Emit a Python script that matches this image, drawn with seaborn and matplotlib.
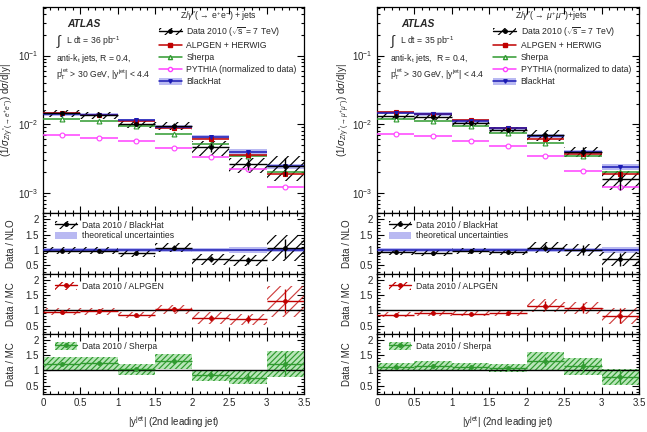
import numpy as np
import pandas as pd
import matplotlib
matplotlib.use("Agg")
import matplotlib.pyplot as plt
import seaborn as sns
from matplotlib.patches import Patch
from matplotlib.lines import Line2D
from matplotlib.ticker import MultipleLocator, LogLocator, NullFormatter, FixedLocator, FixedFormatter

sns.set_theme(style="ticks")
plt.rcParams['font.family'] = ['Liberation Sans', 'DejaVu Sans']
plt.rcParams['mathtext.fontset'] = 'custom'
plt.rcParams['mathtext.rm'] = 'Liberation Sans'
plt.rcParams['mathtext.it'] = 'Liberation Sans:italic'
plt.rcParams['mathtext.bf'] = 'Liberation Sans:bold'
plt.rcParams['hatch.linewidth'] = 0.85

# ---------------- data ----------------
bin_edges = [0, 0.5, 1.0, 1.5, 2.0, 2.5, 3.0, 3.5]

# electron channel
ee_data = [0.0145, 0.0135, 0.0100, 0.0095, 0.0046, 0.0026, 0.0025]
ee_stat = [0.04, 0.05, 0.06, 0.08, 0.15, 0.18, 0.30]
ee_syst = [0.12, 0.12, 0.12, 0.13, 0.26, 0.26, 0.40]
ee_alpgen = [0.0146, 0.0135, 0.0110, 0.0088, 0.0060, 0.0036, 0.0019]
ee_sherpa = [0.0118, 0.0110, 0.0094, 0.0073, 0.0052, 0.0034, 0.0020]
ee_pythia = [0.0069, 0.0064, 0.0057, 0.0045, 0.0033, 0.0022, 0.0012]
ee_blackhat = [0.0140, 0.0138, 0.0114, 0.0091, 0.0065, 0.0040, 0.00245]
ee_bh_unc = [0.06, 0.06, 0.06, 0.07, 0.07, 0.10, 0.08]
ee_r_nlo = [0.98, 0.98, 0.89, 1.08, 0.70, 0.66, 1.05]
ee_r_alpgen = [0.95, 0.97, 0.84, 1.03, 0.75, 0.71, 1.30]
ee_r_sherpa = [1.22, 1.23, 1.03, 1.30, 0.84, 0.76, 1.21]
ee_sherpa_unc = [0.17, 0.17, 0.17, 0.19, 0.22, 0.28, 0.36]

# muon channel
mm_data = [0.0134, 0.0128, 0.0104, 0.0082, 0.0069, 0.0040, 0.0016]
mm_stat = [0.04, 0.05, 0.06, 0.07, 0.12, 0.15, 0.30]
mm_syst = [0.10, 0.10, 0.10, 0.10, 0.18, 0.18, 0.32]
mm_alpgen = [0.0153, 0.0143, 0.0117, 0.0087, 0.0060, 0.0037, 0.0019]
mm_sherpa = [0.0120, 0.0113, 0.0094, 0.0075, 0.0053, 0.0035, 0.0020]
mm_pythia = [0.0073, 0.0067, 0.0057, 0.0049, 0.0035, 0.0021, 0.0012]
mm_blackhat = [0.0148, 0.0141, 0.0112, 0.0087, 0.0067, 0.0040, 0.0024]
mm_bh_unc = [0.06, 0.06, 0.06, 0.06, 0.06, 0.07, 0.10]
mm_r_nlo = [0.92, 0.90, 0.96, 0.92, 1.08, 1.00, 0.70]
mm_r_alpgen = [0.86, 0.92, 0.89, 0.91, 1.16, 1.08, 0.82]
mm_r_sherpa = [1.11, 1.16, 1.11, 1.08, 1.30, 1.13, 0.78]
mm_sherpa_unc = [0.13, 0.13, 0.13, 0.13, 0.23, 0.25, 0.34]

# ---------------- style ----------------
C_RED = '#c00000'
C_GREEN = '#2f9a2f'
C_MAG = '#ff40ff'
C_BLUE = '#1a1ab4'
C_BAND = '#b9b9f2'
C_GBAND = '#b8e6b8'
FS = 6.2
TFS = 7

edges = np.array(bin_edges)
lo = edges[:-1]
hi = edges[1:]
centers = 0.5 * (lo + hi)
width = hi - lo


def style_axis(ax):
    ax.set_xlim(0, 3.5)
    ax.xaxis.set_major_locator(MultipleLocator(0.5))
    ax.xaxis.set_minor_locator(MultipleLocator(0.1))
    ax.tick_params(which='both', direction='in', top=True, right=True,
                   labelsize=TFS, pad=3, width=0.8, color='black')
    ax.tick_params(which='major', length=5)
    ax.tick_params(which='minor', length=2.5)
    for s in ax.spines.values():
        s.set_linewidth(0.9)
        s.set_color('black')
    ax.set_xlabel('')
    ax.set_ylabel('')


def markers(ax, x, y, color, marker, ms, open_=False, z=5):
    df = pd.DataFrame({'x': x, 'y': y})
    sns.lineplot(data=df, x='x', y='y', ax=ax, color=color, marker=marker,
                 linestyle='', markersize=ms,
                 markerfacecolor='white' if open_ else color,
                 markeredgecolor=color, markeredgewidth=0.8,
                 legend=False, errorbar=None, zorder=z, sort=False)


def draw_main(ax, data, stat, syst, alp, she, pyt, bh, bh_unc, header, lumi, ylabel, spaced):
    data = np.array(data); stat = np.array(stat); syst = np.array(syst)
    bh = np.array(bh); bh_unc = np.array(bh_unc)
    ax.set_yscale('log')
    ax.bar(lo, bh * 2 * bh_unc, bottom=bh * (1 - bh_unc), width=width, align='edge',
           color=C_BAND, linewidth=0, zorder=1)
    ax.bar(lo, data * 2 * syst, bottom=data * (1 - syst), width=width, align='edge',
           facecolor='none', edgecolor='black', hatch='///', linewidth=0, zorder=2)
    for vals, col, mk, ms, op in [(pyt, C_MAG, 'o', 3.5, True),
                                  (she, C_GREEN, '^', 3.5, True),
                                  (alp, C_RED, 's', 2.8, False),
                                  (bh, C_BLUE, 'v', 2.8, False)]:
        ax.hlines(vals, lo, hi, color=col, lw=1.1, zorder=3)
        markers(ax, centers, vals, col, mk, ms, op)
    ax.hlines(data, lo, hi, color='black', lw=1.0, zorder=6)
    ax.vlines(centers, data * (1 - stat), data * (1 + stat), color='black', lw=1.0, zorder=6)
    markers(ax, centers, data, 'black', 'o', 2.6, False, z=7)

    ax.yaxis.set_major_locator(LogLocator(base=10, numticks=10))
    ax.yaxis.set_minor_locator(LogLocator(base=10, subs=np.arange(2, 10), numticks=20))
    ax.yaxis.set_minor_formatter(NullFormatter())
    style_axis(ax)
    ax.set_ylim(5.1e-4, 0.51)
    ax.tick_params(axis='x', labelbottom=False)

    ax.text(0.092, 0.918, 'ATLAS', transform=ax.transAxes, fontsize=7.4,
            fontweight='bold', fontstyle='italic', va='center', ha='left')
    ax.text(0.05, 0.832, r'$\int$', transform=ax.transAxes, fontsize=10, va='center', ha='left')
    ax.text(0.088, 0.835, r'L dt = %d pb$^{-1}$' % lumi, transform=ax.transAxes,
            fontsize=FS, va='center', ha='left')
    ax.text(0.05, 0.752, 'anti-k$_{\\rm t}$ jets,%sR = 0.4,' % ('  ' if spaced else ' '),
            transform=ax.transAxes, fontsize=FS, va='center', ha='left')
    ax.text(0.05, 0.672, r'p$_{\rm T}^{\rm jet}$ > 30 GeV, |y$^{\rm jet}$| < 4.4',
            transform=ax.transAxes, fontsize=FS, va='center', ha='left')
    ax.text(0.525, 0.955, header, transform=ax.transAxes, fontsize=FS, va='center', ha='left')
    h_data = (Patch(facecolor='none', edgecolor='black', hatch='///', linewidth=0),
              Line2D([], [], color='black', marker='o', ms=2.5, lw=1))
    h_alp = Line2D([], [], color=C_RED, marker='s', ms=2.5, lw=1.1)
    h_she = Line2D([], [], color=C_GREEN, marker='^', ms=3, mfc='white', lw=1.1)
    h_pyt = Line2D([], [], color=C_MAG, marker='o', ms=3, mfc='white', lw=1.1)
    h_bh = (Patch(facecolor=C_BAND, linewidth=0),
            Line2D([], [], color=C_BLUE, marker='v', ms=2.5, lw=1.1))
    ax.legend([h_data, h_alp, h_she, h_pyt, h_bh],
              [r'Data 2010 ($\sqrt{\rm s}$ = 7 TeV)', 'ALPGEN + HERWIG', 'Sherpa',
               'PYTHIA (normalized to data)', 'BlackHat'],
              loc='upper left', bbox_to_anchor=(0.42, 0.94), frameon=False,
              fontsize=FS, handlelength=2.7, handleheight=1.0, labelspacing=0.35,
              handletextpad=0.5, borderpad=0.2)
    ax.set_ylabel(ylabel, fontsize=TFS)


def draw_ratio(ax, r, stat, unc, col, band_kind, label, bh_unc=None):
    r = np.array(r); stat = np.array(stat); unc = np.array(unc)
    if band_kind == 'nlo':
        bu = np.array(bh_unc)
        ax.bar(lo, 2 * bu, bottom=1 - bu, width=width, align='edge', color=C_BAND,
               linewidth=0, zorder=1)
        ax.axhline(1, color=C_BLUE, lw=1.1, zorder=3)
        ax.bar(lo, r * 2 * unc, bottom=r * (1 - unc), width=width, align='edge',
               facecolor='none', edgecolor='black', hatch='///', linewidth=0, zorder=2)
        handles = [(Patch(facecolor='none', edgecolor='black', hatch='///', linewidth=0),
                    Line2D([], [], color='black', marker='o', ms=2.5, lw=1)),
                   Patch(facecolor=C_BAND, linewidth=0)]
        labels = [label, 'theoretical uncertainties']
    elif band_kind == 'hatch':
        ax.axhline(1, color='black', lw=1.0, zorder=3)
        ax.bar(lo, r * 2 * unc, bottom=r * (1 - unc), width=width, align='edge',
               facecolor='none', edgecolor=col, hatch='///', linewidth=0, zorder=2, alpha=0.75)
        handles = [(Patch(facecolor='none', edgecolor=col, hatch='///', linewidth=0),
                    Line2D([], [], color=col, marker='o', ms=2.5, lw=1))]
        labels = [label]
    else:
        ax.axhline(1, color='black', lw=1.0, zorder=3)
        ax.bar(lo, r * 2 * unc, bottom=r * (1 - unc), width=width, align='edge',
               facecolor=C_GBAND, edgecolor=col, hatch='//////', linewidth=0, zorder=2)
        handles = [(Patch(facecolor=C_GBAND, edgecolor=col, hatch='//////', linewidth=0),
                    Line2D([], [], color=col, marker='o', ms=2.5, lw=1))]
        labels = [label]
    ax.hlines(r, lo, hi, color=col, lw=1.0, zorder=5)
    ax.vlines(centers, r * (1 - stat), r * (1 + stat), color=col, lw=1.0, zorder=5)
    markers(ax, centers, r, col, 'o', 2.6, False, z=6)
    style_axis(ax)
    ax.set_ylim(0.22, 2.2)
    ax.yaxis.set_major_locator(FixedLocator([0.5, 1.0, 1.5, 2.0]))
    ax.yaxis.set_major_formatter(FixedFormatter(['0.5', '1', '1.5', '2']))
    ax.yaxis.set_minor_locator(MultipleLocator(0.1))
    ax.legend(handles, labels, loc='upper left', bbox_to_anchor=(0.02, 0.98),
              frameon=False, fontsize=FS, handlelength=2.6, handleheight=1.0,
              labelspacing=0.2, handletextpad=0.6, borderpad=0.25)


fig = plt.figure(figsize=(6.47, 4.32), dpi=100)
fig.patch.set_facecolor('white')

cols = [
    dict(x0=43 / 647, w=261 / 647, data=ee_data, stat=ee_stat, syst=ee_syst, alp=ee_alpgen,
         she=ee_sherpa, pyt=ee_pythia, bh=ee_blackhat, bhu=ee_bh_unc, rn=ee_r_nlo,
         ra=ee_r_alpgen, rs=ee_r_sherpa, su=ee_sherpa_unc, lumi=36,
         header=r'Z/$\gamma^{*}$($\rightarrow$ e$^{+}$e$^{-}$) + jets',
         ylabel=r'(1/$\sigma_{Z/\gamma^{*}(\rightarrow e^{+}e^{-})}$) d$\sigma$/d|y|',
         spaced=False, lx=-0.103),
    dict(x0=377 / 647, w=262 / 647, data=mm_data, stat=mm_stat, syst=mm_syst, alp=mm_alpgen,
         she=mm_sherpa, pyt=mm_pythia, bh=mm_blackhat, bhu=mm_bh_unc, rn=mm_r_nlo,
         ra=mm_r_alpgen, rs=mm_r_sherpa, su=mm_sherpa_unc, lumi=35,
         header=r'Z/$\gamma^{*}$($\rightarrow$ $\mu^{+}\mu^{-}$)+jets',
         ylabel=r'(1/$\sigma_{Z/\gamma^{*}(\rightarrow \mu^{+}\mu^{-})}$) d$\sigma$/d|y|',
         spaced=True, lx=-0.097),
]

for c in cols:
    axm = fig.add_axes([c['x0'], 1 - 213 / 432, c['w'], 206 / 432])
    ax1 = fig.add_axes([c['x0'], 1 - 274 / 432, c['w'], 61 / 432])
    ax2 = fig.add_axes([c['x0'], 1 - 334 / 432, c['w'], 60 / 432])
    ax3 = fig.add_axes([c['x0'], 1 - 394 / 432, c['w'], 60 / 432])
    draw_main(axm, c['data'], c['stat'], c['syst'], c['alp'], c['she'], c['pyt'], c['bh'],
              c['bhu'], c['header'], c['lumi'], c['ylabel'], c['spaced'])
    axm.yaxis.set_label_coords(c['lx'], 0.5)
    draw_ratio(ax1, c['rn'], c['stat'], c['syst'], 'black', 'nlo', 'Data 2010 / BlackHat',
               bh_unc=c['bhu'])
    draw_ratio(ax2, c['ra'], c['stat'], c['syst'], C_RED, 'hatch', 'Data 2010 / ALPGEN')
    draw_ratio(ax3, c['rs'], c['stat'], c['su'], C_GREEN, 'green', 'Data 2010 / Sherpa')
    ax1.tick_params(axis='x', labelbottom=False)
    ax2.tick_params(axis='x', labelbottom=False)
    ax3.set_xticks([0, 0.5, 1, 1.5, 2, 2.5, 3, 3.5])
    ax3.set_xticklabels(['0', '0.5', '1', '1.5', '2', '2.5', '3', '3.5'])
    ax1.set_ylabel('Data / NLO', fontsize=TFS)
    ax2.set_ylabel('Data / MC', fontsize=TFS)
    ax3.set_ylabel('Data / MC', fontsize=TFS)
    for a in (ax1, ax2, ax3):
        a.yaxis.set_label_coords(c['lx'], 0.5)
    ax3.set_xlabel(r'|y$^{\rm jet}$| (2nd leading jet)', fontsize=TFS)
    ax3.xaxis.set_label_coords(0.5, -0.33)

fig.savefig('out.png', dpi=100, facecolor='white')
